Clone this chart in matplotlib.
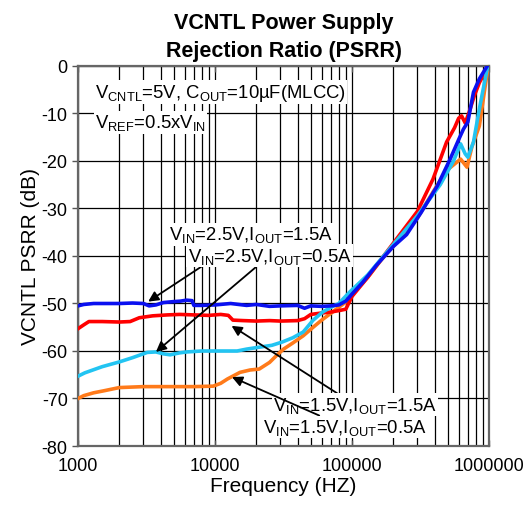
import numpy as np
import matplotlib.pyplot as plt
from matplotlib.ticker import FixedLocator, NullFormatter

plt.rcParams['font.family'] = ['Liberation Sans', 'DejaVu Sans']
plt.rcParams['mathtext.default'] = 'regular'
plt.rcParams['axes.unicode_minus'] = False

# ── data ────────────────────────────────────────────────────────────────────
f_blue = [1000, 1100, 1300, 1600, 2000, 2500, 3000, 3300, 3700, 4200, 5000, 5600,
          6200, 6800, 7000, 8000, 10000, 13000, 17000, 20000, 25000, 30000, 40000,
          45000, 50000, 60000, 70000, 80000, 90000, 100000, 120000, 150000, 200000,
          250000, 320000, 420000, 520000, 600000, 650000, 700000, 770000, 850000, 970000]
db_blue = [-50.5, -50.2, -50.0, -50.0, -50.0, -49.9, -50.0, -50.5, -50.3, -49.8, -49.6, -49.5,
           -49.3, -49.4, -50.4, -50.4, -50.3, -50.0, -50.4, -50.2, -50.6, -50.5, -50.4,
           -51.0, -50.5, -50.6, -50.5, -50.3, -49.5, -48.0, -45.5, -42.0, -38.0,
           -35.5, -30.8, -25.2, -19.6, -15.5, -13.3, -11.8, -5.5, -2.7, 0.0]

f_red = [1000, 1100, 1200, 1500, 2000, 2400, 2800, 3500, 4500, 5500, 7000, 9000, 11000,
         12500, 13500, 16000, 20000, 25000, 30000, 40000, 45000, 50000, 60000, 70000,
         80000, 90000, 100000, 130000, 170000, 230000, 300000, 390000, 490000, 560000,
         600000, 630000, 670000, 720000, 780000, 850000, 960000]
db_red = [-55.3, -54.5, -53.8, -53.8, -53.9, -53.8, -53.0, -52.6, -52.4, -52.3, -52.4, -52.5, -52.3,
          -52.5, -53.5, -53.6, -53.7, -53.6, -53.7, -53.6, -53.2, -52.3, -52.0, -51.8,
          -51.5, -51.2, -48.5, -44.5, -40.0, -35.0, -30.6, -23.8, -16.0, -13.0,
          -11.0, -10.5, -12.0, -9.5, -6.3, -3.5, -0.6]

f_cyan = [1000, 1120, 1500, 2000, 2500, 3200, 3700, 4200, 4700, 5500, 6200, 8000, 10000,
          14500, 17000, 21000, 26000, 31000, 37000, 44000, 52000, 61000, 70000, 80000,
          96000, 130000, 170000, 230000, 300000, 440000, 550000, 620000, 670000, 700000,
          770000, 850000, 970000]
db_cyan = [-65.3, -64.6, -63.3, -62.3, -61.4, -60.3, -60.2, -60.6, -60.8, -60.4, -60.2, -60.0, -60.0,
           -60.0, -59.6, -59.2, -58.8, -58.1, -57.2, -56.0, -53.5, -51.8, -50.8, -50.0,
           -47.6, -44.0, -40.0, -35.5, -31.5, -25.0, -20.0, -16.4, -18.5, -19.2,
           -16.0, -9.0, -0.5]

f_orange = [1000, 1100, 1300, 1530, 2000, 3000, 5000, 7000, 9700, 11000, 12300, 15200,
            18000, 21000, 25000, 28000, 31600, 37000, 44000, 52000, 60000, 69000, 80000,
            90000, 100000, 130000, 170000, 230000, 300000, 390000, 490000, 620000, 690000,
            750000, 850000, 970000]
db_orange = [-70.0, -69.4, -68.8, -68.4, -67.7, -67.5, -67.5, -67.5, -67.4, -66.8, -65.9, -64.5,
             -64.0, -63.8, -62.4, -61.0, -59.6, -58.3, -56.8, -55.0, -53.5, -52.2, -50.8,
             -49.7, -48.0, -44.5, -40.2, -36.0, -32.0, -26.5, -22.0, -19.6, -21.3,
             -17.0, -12.6, -1.3]

x_ticks = [1000, 10000, 100000, 1000000]
x_ticklabels = ["1000", "10000", "100000", "1000000"]
y_ticks = [0, -10, -20, -30, -40, -50, -60, -70, -80]

# ── figure ──────────────────────────────────────────────────────────────────
fig = plt.figure(figsize=(5.31, 5.06), dpi=100)
ax = fig.add_axes([0.147, 0.1166, 0.774, 0.751])

ax.plot(f_orange, db_orange, color="#ff7a1a", lw=2.6, zorder=3)
ax.plot(f_red, db_red, color="#ff0000", lw=2.6, zorder=4)
ax.plot(f_cyan, db_cyan, color="#22c4f2", lw=2.6, zorder=5)
ax.plot(f_blue, db_blue, color="#0a10f0", lw=2.6, zorder=6)

ax.set_xscale("log")
ax.set_xlim(1000, 1000000)
ax.set_ylim(-80, 0)
ax.xaxis.set_major_locator(FixedLocator(x_ticks))
ax.set_xticklabels(x_ticklabels)
ax.xaxis.set_minor_formatter(NullFormatter())
ax.set_yticks(y_ticks)
ax.tick_params(axis="both", labelsize=13, length=4, width=1, color="#555555")
ax.tick_params(axis="x", which="both", direction="in", top=True, pad=8)
ax.tick_params(axis="x", which="minor", length=6)
ax.grid(True, which="major", color="black", lw=0.9)
ax.grid(True, which="minor", axis="x", color="black", lw=0.9)
ax.set_axisbelow(True)
for sp in ax.spines.values():
    sp.set_color("#666666")
    sp.set_linewidth(1.6)

ax.set_xlabel("Frequency (HZ)", fontsize=15, labelpad=1)
ax.set_ylabel("VCNTL PSRR (dB)", fontsize=15, labelpad=1)
ax.set_title("VCNTL Power Supply\nRejection Ratio (PSRR)", fontsize=15.5,
             fontweight="bold", pad=7, linespacing=1.45)

box = dict(facecolor="white", edgecolor="none", pad=1.0)
ax.text(1330, -5.5, r"V$_{CNTL}$=5V, C$_{OUT}$=10µF(MLCC)", fontsize=13.3,
        va="center", ha="left", bbox=box, zorder=7)
ax.text(1330, -11.8, r"V$_{REF}$=0.5xV$_{IN}$", fontsize=13.3,
        va="center", ha="left", bbox=box, zorder=7)

arrow = dict(arrowstyle="-|>", color="black", lw=1.3, mutation_scale=15,
             shrinkA=0, shrinkB=0)
notes = [
    (r"V$_{IN}$=2.5V,I$_{OUT}$=1.5A", (4600, -35.4), (3250, -49.6)),
    (r"V$_{IN}$=2.5V,I$_{OUT}$=0.5A", (6300, -39.9), (3700, -60.2)),
    (r"V$_{IN}$=1.5V,I$_{OUT}$=1.5A", (26500, -71.3), (13200, -54.7)),
    (r"V$_{IN}$=1.5V,I$_{OUT}$=0.5A", (22500, -76.0), (13300, -65.5)),
]
for txt, xyt, xyh in notes:
    ax.annotate(txt, xy=xyh, xytext=xyt, fontsize=13.3, ha="left", va="center",
                arrowprops=arrow, bbox=box, zorder=8)

fig.savefig("out.png", dpi=100)
